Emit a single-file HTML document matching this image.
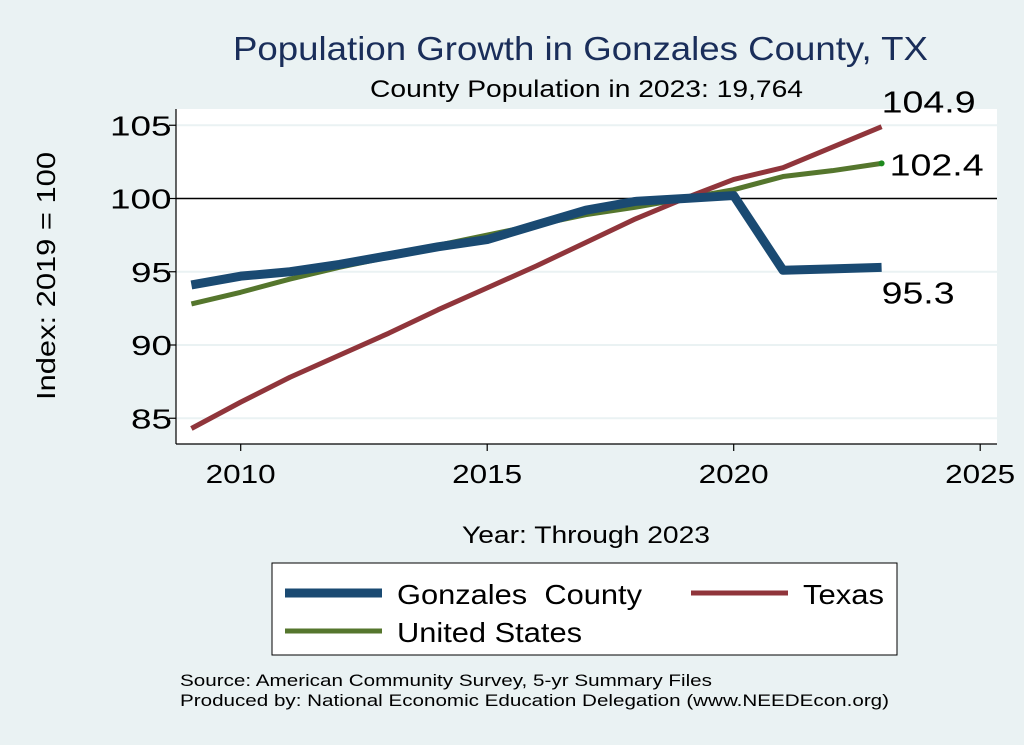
<!DOCTYPE html>
<html><head><meta charset="utf-8"><style>
body{margin:0;background:#eaf2f3;}
svg{display:block;font-family:"Liberation Sans",sans-serif;}
</style></head><body>
<svg id="chart" width="1024" height="745">
<rect width="1024" height="745" fill="#eaf2f3"/>
<rect x="176" y="109" width="821" height="335" fill="#fff"/>
<text x="233" y="60" font-size="33" fill="#1a2e5a" textLength="695" lengthAdjust="spacingAndGlyphs">Population Growth in Gonzales County, TX</text>
<text x="370" y="97" font-size="24" textLength="433" lengthAdjust="spacingAndGlyphs">County Population in 2023: 19,764</text>
<g id="grid"></g><g id="axes"></g><g id="series"></g>
<text x="462" y="543" font-size="24" textLength="248" lengthAdjust="spacingAndGlyphs">Year: Through 2023</text>
<text transform="translate(55,400) rotate(-90)" font-size="26" textLength="248" lengthAdjust="spacingAndGlyphs">Index: 2019 = 100</text>
<g>
<rect x="272" y="563" width="625" height="92" fill="#fff" stroke="#000" stroke-width="1"/>
<g><line x1="285" y1="593" x2="382" y2="593" stroke="#1a4a72" stroke-width="9"/><text x="397" y="604" font-size="28" textLength="245" lengthAdjust="spacingAndGlyphs" xml:space="preserve">Gonzales  County</text></g>
<g><line x1="691" y1="593" x2="788" y2="593" stroke="#90353b" stroke-width="5"/><text x="803" y="604" font-size="28" textLength="81" lengthAdjust="spacingAndGlyphs">Texas</text></g>
<g><line x1="285" y1="631" x2="382" y2="631" stroke="#55762d" stroke-width="5"/><text x="397" y="642" font-size="28" textLength="185" lengthAdjust="spacingAndGlyphs">United States</text></g>
</g>
<text x="180" y="686" font-size="17" textLength="532" lengthAdjust="spacingAndGlyphs">Source: American Community Survey, 5-yr Summary Files</text>
<text x="180" y="706" font-size="17" textLength="709" lengthAdjust="spacingAndGlyphs">Produced by: National Economic Education Delegation (www.NEEDEcon.org)</text>
</svg>
<script>
const years=[2009,2010,2011,2012,2013,2014,2015,2016,2017,2018,2019,2020,2021,2022,2023];
const gonzales=[94.1,94.7,95.0,95.5,96.1,96.7,97.2,98.2,99.2,99.8,100,100.2,95.1,95.2,95.3];
const texas=[84.3,86.1,87.8,89.3,90.8,92.4,93.9,95.4,97.0,98.6,100,101.3,102.1,103.5,104.9];
const us=[92.8,93.6,94.5,95.3,96.0,96.8,97.5,98.2,98.9,99.4,100,100.6,101.5,101.9,102.4];
const xTicks=[2010,2015,2020,2025];
const yTicks=[85,90,95,100,105];
const NS="http://www.w3.org/2000/svg";
const X=v=>240.7+(v-2010)*49.3;
const Y=v=>198.5-(v-100)*14.65;
function mk(t,a,p){const e=document.createElementNS(NS,t);for(const k in a)e.setAttribute(k,a[k]);p.appendChild(e);return e;}
const grid=document.getElementById('grid'),axes=document.getElementById('axes'),ser=document.getElementById('series');
yTicks.forEach(v=>{
 const g=mk('line',{x1:176,x2:997,y1:Y(v),y2:Y(v),stroke:v===100?'#000':'#eaf2f3','stroke-width':v===100?1.5:2},grid);
 
 
 const t=mk('line',{x1:169,x2:176,y1:Y(v),y2:Y(v),stroke:'#000','stroke-width':1.2},axes);
 
 
 const l=mk('text',{x:110,y:Y(v)+10,'font-size':28,textLength:String(v).length*20.5,lengthAdjust:'spacingAndGlyphs'},axes);l.textContent=v;
 if(String(v).length===2)l.setAttribute('x',131);
 
 
});
xTicks.forEach(v=>{
 const t=mk('line',{x1:X(v),x2:X(v),y1:444,y2:451,stroke:'#000','stroke-width':1.2},axes);
 
 
 const l=mk('text',{x:X(v)-35,y:483,'font-size':26,textLength:70,lengthAdjust:'spacingAndGlyphs'},axes);l.textContent=v;
 
 
});
const ya=mk('line',{x1:176,x2:176,y1:109,y2:444,stroke:'#000','stroke-width':1.2},axes);


const xa=mk('line',{x1:176,x2:997,y1:444,y2:444,stroke:'#000','stroke-width':1.2},axes);


function line(vals,color,w,name){
 const p=mk('polyline',{points:vals.map((v,i)=>X(years[i])+','+Y(v)).join(' '),fill:'none',stroke:color,'stroke-width':w,'stroke-linejoin':'round'},ser);
 
 
}
line(us,'#55762d',5,'line-united-states');
line(texas,'#90353b',5,'line-texas');
line(gonzales,'#1a4a72',9,'line-gonzales-county');
const n=years.length-1;
const dot=mk('circle',{cx:X(years[n]),cy:Y(us[n]),r:3,fill:'#1e8a1e'},ser);


[[texas[n],-14,'label-texas-end'],[us[n],12,'label-us-end'],[gonzales[n],36,'label-gonzales-end']].forEach(([v,dy,nm])=>{
 const t=mk('text',{x:X(years[n])+(nm==='label-us-end'?8:0),y:Y(v)+dy,'font-size':31,textLength:94,lengthAdjust:'spacingAndGlyphs'},ser);
 if(nm==='label-gonzales-end')t.setAttribute('textLength',73);
 t.textContent=v.toFixed(1);
 
 
});
</script>
</body></html>
